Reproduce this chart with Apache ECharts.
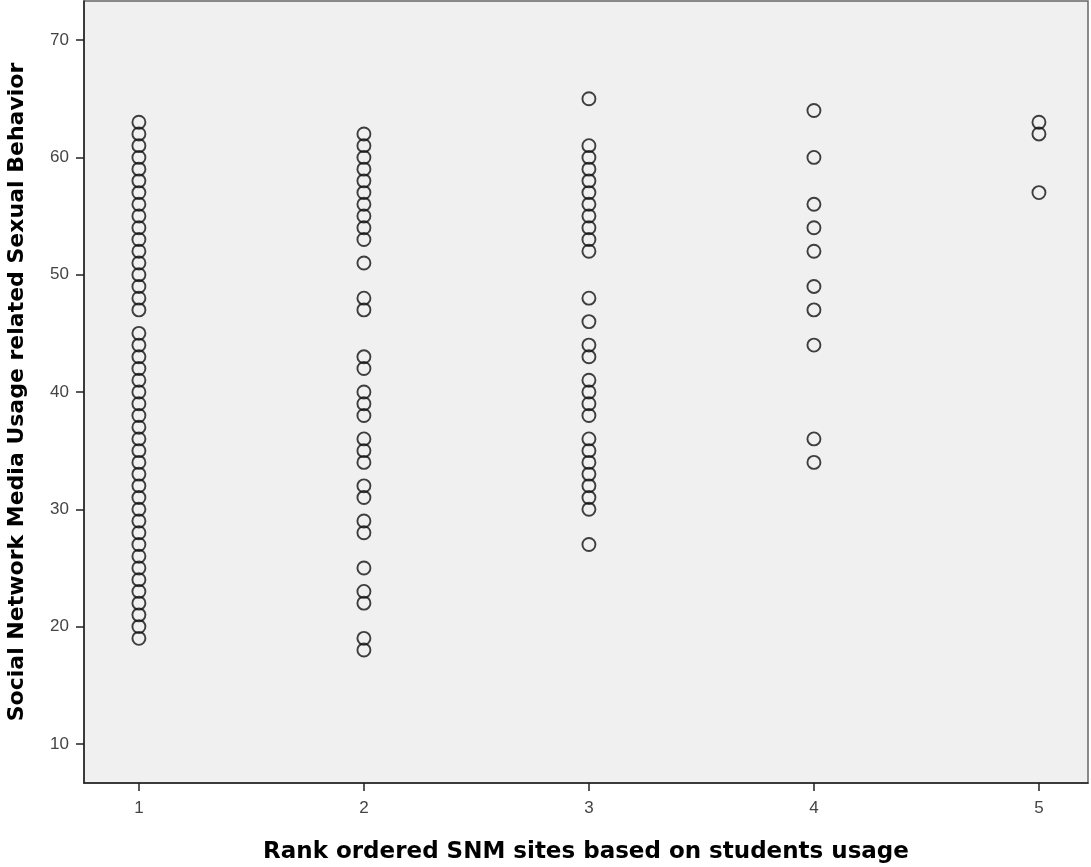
<!DOCTYPE html>
<html>
<head>
<meta charset="utf-8">
<script src="https://cdn.jsdelivr.net/npm/echarts@6/dist/echarts.min.js"></script>
<style>html,body{margin:0;padding:0;background:#fff}#c{width:1091px;height:867px}</style>
</head>
<body>
<div id="c"></div>
<script>
const xTicks = [1, 2, 3, 4, 5];
const yTicks = [10, 20, 30, 40, 50, 60, 70];
const rank1 = [19,20,21,22,23,24,25,26,27,28,29,30,31,32,33,34,35,36,37,38,39,40,41,42,43,44,45,47,48,49,50,51,52,53,54,55,56,57,58,59,60,61,62,63];
const rank2 = [62,61,60,59,58,57,56,55,54,53,51,48,47,43,42,40,39,38,36,35,34,32,31,29,28,25,23,22,19,18];
const rank3 = [65,61,60,59,58,57,56,55,54,53,52,48,46,44,43,41,40,39,38,36,35,34,33,32,31,30,27];
const rank4 = [64,60,56,54,52,49,47,44,36,34];
const rank5 = [63,62,57];

const groups = [rank1, rank2, rank3, rank4, rank5];
const points = [];
groups.forEach((g, i) => g.forEach(v => points.push([xTicks[i], v])));

const chart = echarts.init(document.getElementById('c'));
chart.setOption({
  animation: false,
  backgroundColor: '#ffffff',
  grid: {
    left: 84, right: 3, top: 1, bottom: 84,
    outerBoundsMode: 'none', containLabel: false,
    show: true, backgroundColor: '#f0f0f0', borderColor: '#666', borderWidth: 1.5
  },
  xAxis: {
    type: 'value', min: 0.756, max: 5.218,
    name: 'Rank ordered SNM sites based on students usage',
    nameLocation: 'middle', nameGap: 58,
    nameTextStyle: { fontFamily: 'DejaVu Sans', fontWeight: 'bold', fontSize: 23, color: '#000' },
    axisLine: { show: true, lineStyle: { color: '#222', width: 1.5 } },
    axisTick: { show: true, length: 8, customValues: xTicks, lineStyle: { color: '#222', width: 1.5 } },
    axisLabel: { customValues: xTicks, fontFamily: 'Liberation Sans', fontSize: 17, color: '#444', margin: 17 },
    splitLine: { show: false }
  },
  yAxis: {
    type: 'value', min: 6.667, max: 73.333,
    name: 'Social Network Media Usage related Sexual Behavior',
    nameLocation: 'middle', nameGap: 56, nameRotate: 90,
    nameTextStyle: { fontFamily: 'DejaVu Sans', fontWeight: 'bold', fontSize: 22, color: '#000' },
    axisLine: { show: true, lineStyle: { color: '#222', width: 1.5 } },
    axisTick: { show: true, length: 8, customValues: yTicks, lineStyle: { color: '#222', width: 1.5 } },
    axisLabel: { customValues: yTicks, fontFamily: 'Liberation Sans', fontSize: 17, color: '#444', margin: 15 },
    splitLine: { show: false }
  },
  series: [{
    type: 'scatter',
    data: points,
    symbol: 'circle',
    symbolSize: 13,
    itemStyle: { color: 'rgba(0,0,0,0)', borderColor: '#111', borderWidth: 1.9 }
  }]
});
</script>
</body>
</html>
